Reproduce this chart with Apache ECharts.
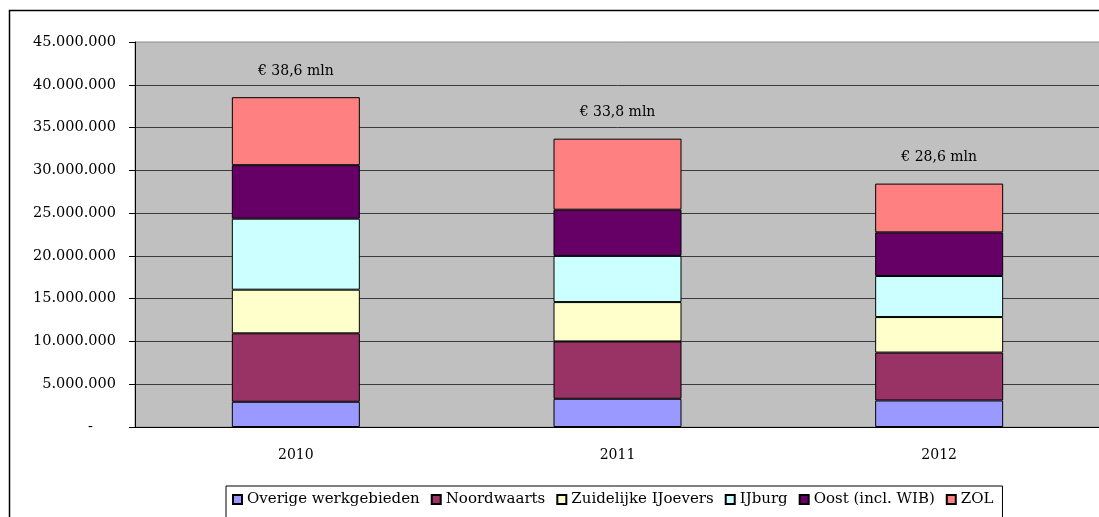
<!DOCTYPE html>
<html lang="nl" style="height: 100%">
<head>
  <meta charset="utf-8">
</head>
<body style="height: 100%; margin: 0; background: #fff">
  <div id="container" style="width: 1099px; height: 517px"></div>

  <script type="text/javascript" src="https://fastly.jsdelivr.net/npm/echarts@6/dist/echarts.min.js"></script>
  <script type="text/javascript">
    var dom = document.getElementById('container');
    var myChart = echarts.init(dom, null, { renderer: 'canvas' });
    var option;

    // jaren en bedragen (euro)
    const years = ['2010', '2011', '2012'];
    const totalLabels = ['38,6', '33,8', '28,6'];

    const overige = [2950000, 3300000, 3100000];
    const noordwaarts = [8000000, 6700000, 5600000];
    const zuidelijk = [5100000, 4600000, 4150000];
    const ijburg = [8300000, 5400000, 4800000];
    const oost = [6250000, 5400000, 5100000];
    const zol = [7950000, 8300000, 5700000];

    const seriesNames = ['Overige werkgebieden', 'Noordwaarts', 'Zuidelijke IJoevers', 'IJburg', 'Oost (incl. WIB)', 'ZOL'];
    const seriesData = [overige, noordwaarts, zuidelijk, ijburg, oost, zol];
    const colors = ['#9999ff', '#993366', '#ffffcc', '#ccffff', '#660066', '#ff8080'];

    const FONT = '"DejaVu Serif", serif';

    function fmt(v) {
      if (v === 0) return '-     ';
      return String(v).replace(/\B(?=(\d{3})+(?!\d))/g, '.');
    }

    const seriesList = seriesNames.map(function (name, i) {
      const s = {
        name: name,
        type: 'bar',
        stack: 'totaal',
        barWidth: 128,
        data: seriesData[i],
        itemStyle: {
          color: colors[i],
          borderColor: '#000',
          borderWidth: 1
        },
        emphasis: { disabled: true }
      };
      if (i === seriesNames.length - 1) {
        s.label = {
          show: true,
          position: 'top',
          distance: 19,
          color: '#000',
          fontFamily: FONT,
          fontSize: 14,
          formatter: function (p) {
            return '€ ' + totalLabels[p.dataIndex] + ' mln';
          }
        };
      }
      return s;
    });

    option = {
      animation: false,
      graphic: [{
        type: 'rect',
        shape: { x: 9.5, y: 10.5, width: 1120, height: 540 },
        style: { fill: 'none', stroke: '#000', lineWidth: 1.5 },
        silent: true
      }],
      grid: {
        left: 135,
        top: 42,
        width: 965,
        height: 385,
        show: true,
        backgroundColor: '#c0c0c0',
        borderColor: '#8c8c8c',
        borderWidth: 1,
        outerBoundsMode: 'none'
      },
      legend: {
        data: seriesNames,
        left: 226,
        top: 486,
        icon: 'rect',
        itemWidth: 9,
        itemHeight: 9,
        itemGap: 11,
        borderColor: '#000',
        borderWidth: 1,
        padding: [6, 9, 20, 6],
        textStyle: { fontFamily: FONT, fontSize: 15, color: '#000' }
      },
      xAxis: {
        type: 'category',
        data: years,
        axisLine: { lineStyle: { color: '#000', width: 1 } },
        axisTick: { length: 7, lineStyle: { color: '#000' } },
        axisLabel: { margin: 21, color: '#000', fontFamily: FONT, fontSize: 14 }
      },
      yAxis: {
        type: 'value',
        min: 0,
        max: 45000000,
        interval: 5000000,
        axisLine: { show: true, lineStyle: { color: '#000', width: 1 } },
        axisTick: { show: true, length: 6, lineStyle: { color: '#000' } },
        splitLine: { showMaxLine: false, lineStyle: { color: '#3a3a3a', width: 1 } },
        axisLabel: {
          margin: 19,
          color: '#000',
          fontFamily: FONT,
          fontSize: 14.5,
          formatter: fmt
        }
      },
      series: seriesList
    };

    if (option && typeof option === 'object') {
      myChart.setOption(option);
    }

    window.addEventListener('resize', myChart.resize);
  </script>
</body>
</html>
